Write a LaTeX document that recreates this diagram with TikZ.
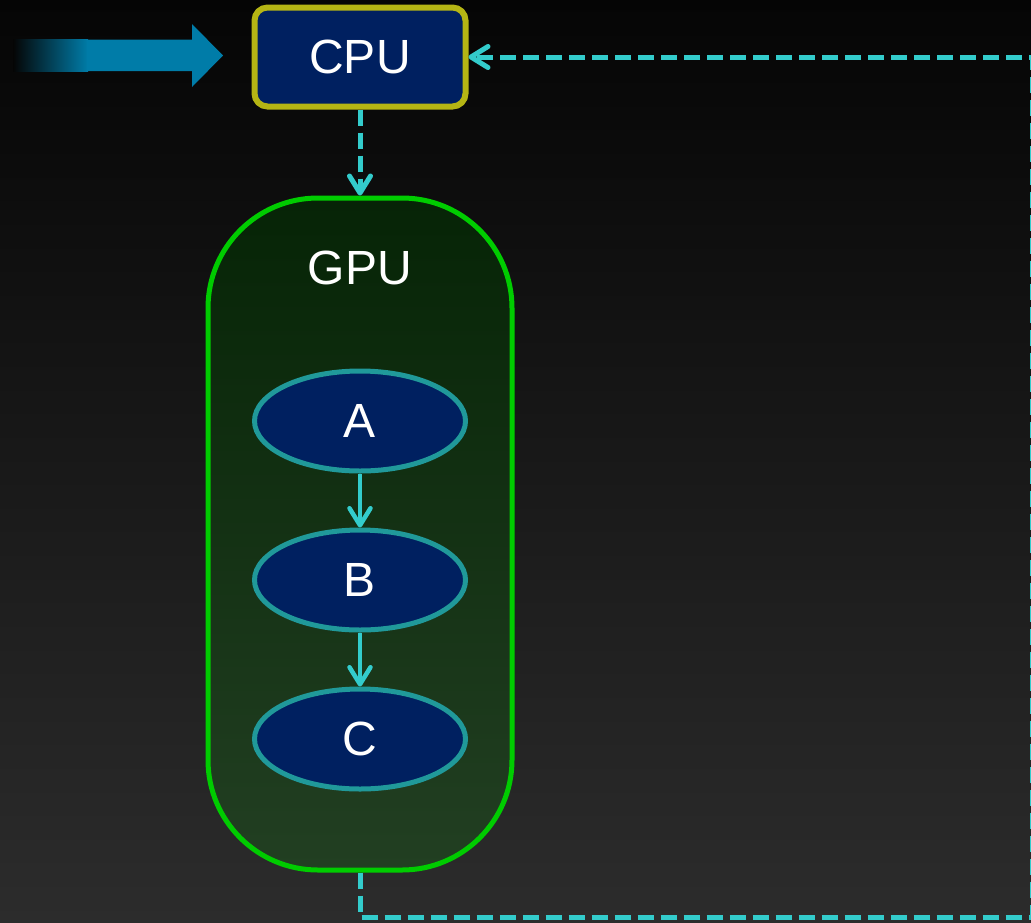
\documentclass[tikz,border=0pt]{standalone}
\usepackage{fontspec}
\setmainfont{Liberation Sans}
\usetikzlibrary{arrows.meta,shapes.geometric}

\definecolor{bgtop}{HTML}{050505}
\definecolor{bgmid}{HTML}{0F0F0F}
\definecolor{bgbot}{HTML}{2C2C2C}
\definecolor{cpufill}{HTML}{002060}
\definecolor{cpuline}{HTML}{B5B514}
\definecolor{gputop}{HTML}{062406}
\definecolor{gpubot}{HTML}{223F22}
\definecolor{gpuline}{HTML}{00CC00}
\definecolor{kernline}{HTML}{20999A}
\definecolor{flow}{HTML}{33CCCC}
\definecolor{inarrow}{HTML}{007CA8}

\tikzset{
  bigtext/.style={text=white, font=\fontsize{48}{48}\selectfont},
  cpubox/.style={bigtext, draw=cpuline, fill=cpufill, line width=6pt,
    rounded corners=13pt, minimum width=211pt, minimum height=99pt, inner sep=0pt},
  gpubox/.style={draw=gpuline, line width=5pt, rounded corners=110pt,
    top color=gputop, bottom color=gpubot,
    minimum width=304pt, minimum height=672pt, inner sep=0pt},
  kernel/.style={bigtext, ellipse, draw=kernline, fill=cpufill, line width=5pt,
    minimum width=211pt, minimum height=100pt, inner sep=0pt},
  tip/.style={-{Straight Barb[length=17pt,width=21pt,line cap=round,line join=round]}},
  flowline/.style={draw=flow, line width=4.5pt, tip},
  dashflow/.style={draw=flow, line width=5pt, dash pattern=on 16pt off 7pt},
}

\begin{document}
\begin{tikzpicture}[x=1pt,y=-1pt]
  % background
  \shade[top color=bgtop, middle color=bgmid, bottom color=bgbot]
    (0,0) rectangle (1031,922);
  \useasboundingbox (0,0) rectangle (1031,922);

  % incoming arrow with faded tail
  \shade[left color=bgtop, right color=inarrow]
    (13,39.5) rectangle (88,71);
  \fill[inarrow] (87,39.5) -- (192,39.5) -- (192,24) -- (223,55.5)
    -- (192,87) -- (192,71) -- (87,71) -- cycle;

  % host and device
  \node[cpubox] (cpu) at (360,57) {CPU};
  \node[gpubox] (gpu) at (360,534) {};
  \node[bigtext] (gpulabel) at (360,268) {GPU};

  % kernels
  \node[kernel] (a) at (360,421) {A};
  \node[kernel] (b) at (360,580) {B};
  \node[kernel] (c) at (360,739) {C};

  % launch and kernel ordering
  \draw[dashflow, tip] (cpu.south) -- (gpu.north);
  \draw[flowline] (a.south) -- (b.north);
  \draw[flowline] (b.south) -- (c.north);

  % return path to the host
  \coordinate (lowleft) at (360,917);
  \coordinate (lowright) at (1032,917);
  \coordinate (upright) at (1032,57);
  \draw[dashflow, tip] (gpu.south) -- (lowleft) -- (lowright) -- (upright) -- (cpu.east);
\end{tikzpicture}
\end{document}
